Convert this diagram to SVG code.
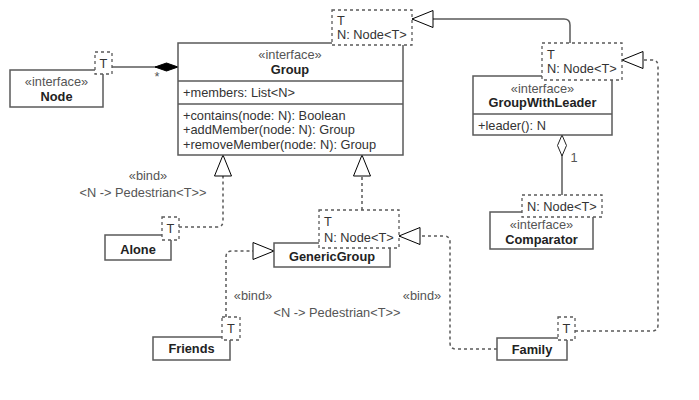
<svg xmlns="http://www.w3.org/2000/svg" width="699" height="400" viewBox="0 0 699 400">
<style>
text{font-family:"Liberation Sans",Arial,sans-serif;font-size:12.8px;fill:#333}
.c{text-anchor:middle}
.st{fill:#555}
.b{font-weight:bold;fill:#222}
.box{fill:#fff;stroke:#5a5a5a;stroke-width:1.5}
.div{stroke:#5a5a5a;stroke-width:1.5}
.tpl{fill:#fff;stroke:#5a5a5a;stroke-width:1.3;stroke-dasharray:3 3}
.line{fill:none;stroke:#5a5a5a;stroke-width:1.5}
.dash{fill:none;stroke:#5a5a5a;stroke-width:1.5;stroke-dasharray:3 3}
</style>
<defs>
<marker id="gen" markerUnits="userSpaceOnUse" markerWidth="24" markerHeight="20" viewBox="-1 -1 24 20" refX="21" refY="8.5" orient="auto">
<path d="M0,0 L21,8.5 L0,17 Z" fill="#fff" stroke="#000" stroke-width="1"/>
</marker>
<marker id="comp" markerUnits="userSpaceOnUse" markerWidth="25" markerHeight="11" viewBox="-1 -1 25 11" refX="23" refY="4" orient="auto">
<path d="M0,4 L11.5,0 L23,4 L11.5,8 Z" fill="#000" stroke="#000" stroke-width="1"/>
</marker>
<marker id="agg" markerUnits="userSpaceOnUse" markerWidth="23" markerHeight="12" viewBox="-1 -1 23 12" refX="21" refY="4.5" orient="auto">
<path d="M0,4.5 L10.5,0 L21,4.5 L10.5,9 Z" fill="#fff" stroke="#222" stroke-width="1"/>
</marker>
</defs>
<rect width="699" height="400" fill="#fff"/>

<g id="connectors">
<path class="line" d="M112,67 H178" marker-end="url(#comp)"/>
<path class="line" d="M562,195 V135" marker-end="url(#agg)"/>
<path class="line" d="M570,43 V25 Q570,19 564,19 H412" marker-end="url(#gen)"/>
<path class="dash" d="M179,227 H217 Q223,227 223,221 V155" marker-end="url(#gen)"/>
<path class="dash" d="M362,210 V155" marker-end="url(#gen)"/>
<path class="dash" d="M226,317 V257 Q226,251 232,251 H274" marker-end="url(#gen)"/>
<path class="dash" d="M497,349 H456 Q450,349 450,343 V242 Q450,236 444,236 H399" marker-end="url(#gen)"/>
<path class="dash" d="M575,331 H652 Q658,331 658,325 V66 Q658,60 652,60 H622" marker-end="url(#gen)"/>
<text x="157" y="81" class="c st">*</text>
<text x="574" y="162" class="c st">1</text>
<text x="148" y="180" class="c st">«bind»</text>
<text x="143" y="197" class="c st">&lt;N -&gt; Pedestrian&lt;T&gt;&gt;</text>
<text x="253" y="300" class="c st">«bind»</text>
<text x="337" y="317" class="c st">&lt;N -&gt; Pedestrian&lt;T&gt;&gt;</text>
<text x="422" y="300" class="c st">«bind»</text>
</g>

<g id="node-Node">
<rect class="box" x="10" y="70" width="93" height="37"/>
<text x="56.5" y="85.5" class="c st">«interface»</text>
<text x="56.5" y="100.5" class="c b">Node</text>
<rect class="tpl" x="95" y="52" width="17" height="22"/>
<text x="103.5" y="67.5" class="c">T</text>
</g>

<g id="node-Group">
<rect class="box" x="178" y="43" width="225" height="112"/>
<line class="div" x1="178" y1="81" x2="403" y2="81"/>
<line class="div" x1="178" y1="104" x2="403" y2="104"/>
<text x="290" y="58.5" class="c st">«interface»</text>
<text x="290" y="73.5" class="c b">Group</text>
<text x="183" y="96.5">+members: List&lt;N&gt;</text>
<text x="183" y="119.5">+contains(node: N): Boolean</text>
<text x="183" y="133.5">+addMember(node: N): Group</text>
<text x="183" y="148.5">+removeMember(node: N): Group</text>
<rect class="tpl" x="332" y="10" width="80" height="35"/>
<text x="337" y="24.5">T</text>
<text x="337" y="38.5">N: Node&lt;T&gt;</text>
</g>

<g id="node-GroupWithLeader">
<rect class="box" x="473" y="76" width="139" height="59"/>
<line class="div" x1="473" y1="114" x2="612" y2="114"/>
<text x="542.5" y="92.5" class="c st">«interface»</text>
<text x="542.5" y="106.5" class="c b">GroupWithLeader</text>
<text x="478" y="129.5">+leader(): N</text>
<rect class="tpl" x="542" y="43" width="80" height="37"/>
<text x="547" y="58.5">T</text>
<text x="547" y="72.5">N: Node&lt;T&gt;</text>
</g>

<g id="node-Comparator">
<rect class="box" x="490" y="212" width="103" height="37"/>
<text x="541.5" y="228.5" class="c st">«interface»</text>
<text x="541.5" y="243.5" class="c b">Comparator</text>
<rect class="tpl" x="522" y="195" width="80" height="22"/>
<text x="527" y="210.5">N: Node&lt;T&gt;</text>
</g>

<g id="node-Alone">
<rect class="box" x="105" y="235" width="66" height="25"/>
<text x="138" y="253.5" class="c b">Alone</text>
<rect class="tpl" x="162" y="217" width="17" height="23"/>
<text x="170.5" y="232.5" class="c">T</text>
</g>

<g id="node-GenericGroup">
<rect class="box" x="274" y="243" width="116" height="24"/>
<text x="332" y="260.5" class="c b">GenericGroup</text>
<rect class="tpl" x="319" y="210" width="80" height="38"/>
<text x="324" y="225.5">T</text>
<text x="324" y="241.5">N: Node&lt;T&gt;</text>
</g>

<g id="node-Friends">
<rect class="box" x="153" y="337" width="77" height="23"/>
<text x="191.5" y="353" class="c b">Friends</text>
<rect class="tpl" x="222" y="317" width="18" height="23"/>
<text x="231" y="333" class="c">T</text>
</g>

<g id="node-Family">
<rect class="box" x="497" y="338" width="70" height="22"/>
<text x="532" y="353.5" class="c b">Family</text>
<rect class="tpl" x="558" y="317" width="17" height="23"/>
<text x="566.5" y="332.5" class="c">T</text>
</g>
</svg>
